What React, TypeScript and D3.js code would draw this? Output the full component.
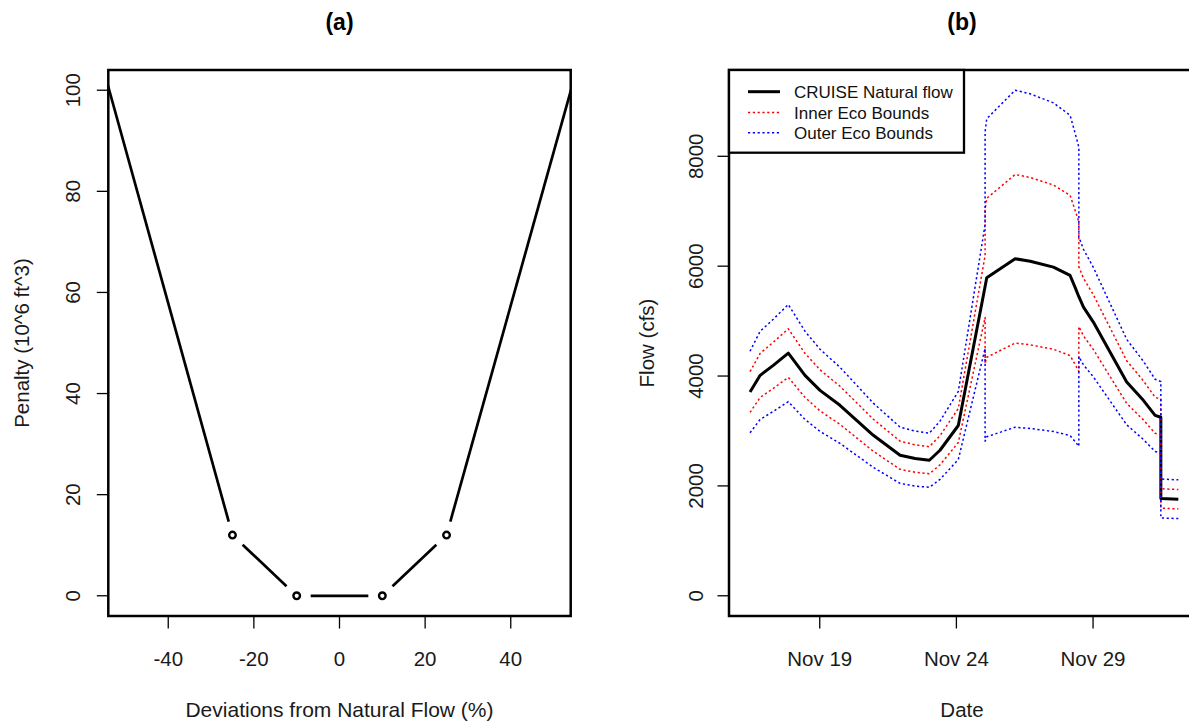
import React, { useEffect } from 'react';
import * as d3 from 'd3';

// ---------- Panel (a) data ----------
const devPct = [-60, -25, -10, 10, 25, 60];
const penalty = [119, 12, 0, 0, 12, 118];
const penaltyTicksX = [-40, -20, 0, 20, 40];
const penaltyTicksY = [0, 20, 40, 60, 80, 100];

// ---------- Panel (b) data (day of November, fractional) ----------
const dayOfNov = [
  16.45, 16.82, 17.3, 17.85, 18.46, 19.01, 19.74, 20.35, 20.96, 21.94, 22.49, 23.01, 23.4, 24.07,
  25.05, 25.05, 25.11, 26.15, 26.7, 27.55, 28.16, 28.34, 28.48, 28.48, 28.65, 29.01, 29.62, 30.23,
  30.84, 31.27, 31.45, 31.48, 31.48, 32.12,
];
const naturalFlow = [
  3709, 4013, 4195, 4418, 4013, 3740, 3467, 3195, 2922, 2558, 2498, 2467, 2649, 3100,
  5630, 5630, 5789, 6135, 6091, 5982, 5831, 5618, 5444, 5444, 5255, 4982, 4436, 3891,
  3558, 3285, 3255, 3250, 1771, 1758,
];
const innerUpper = [
  4080, 4414, 4615, 4860, 4414, 4114, 3814, 3515, 3214, 2814, 2748, 2714, 2914, 3410,
  6193, 7038, 7236, 7669, 7614, 7478, 7289, 7023, 6805, 5988, 5781, 5480, 4880, 4280,
  3914, 3614, 3581, 3575, 1948, 1934,
];
const innerLower = [
  3338, 3612, 3776, 3976, 3612, 3366, 3120, 2876, 2630, 2302, 2248, 2220, 2384, 2790,
  5067, 4223, 4342, 4601, 4568, 4487, 4373, 4214, 4083, 4900, 4730, 4484, 3992, 3502,
  3202, 2957, 2930, 2925, 1594, 1582,
];
const outerUpper = [
  4451, 4816, 5034, 5302, 4816, 4488, 4160, 3834, 3506, 3070, 2998, 2960, 3179, 3720,
  6756, 8445, 8684, 9203, 9137, 8973, 8747, 8427, 8166, 6533, 6306, 5978, 5323, 4669,
  4270, 3942, 3906, 3900, 2125, 2110,
];
const outerLower = [
  2967, 3210, 3356, 3534, 3210, 2992, 2774, 2556, 2338, 2046, 1998, 1974, 2119, 2480,
  4504, 2815, 2895, 3068, 3046, 2991, 2916, 2809, 2722, 4355, 4204, 3986, 3549, 3113,
  2846, 2628, 2604, 2600, 1417, 1406,
];
const dateTicks = [19, 24, 29];
const dateTickLabels = ['Nov 19', 'Nov 24', 'Nov 29'];
const flowTicks = [0, 2000, 4000, 6000, 8000];
const legendLabels = ['CRUISE Natural flow', 'Inner Eco Bounds', 'Outer Eco Bounds'];
const legendColors = ['#000000', '#ff0000', '#0000ff'];

const FONT = '"Liberation Sans", Arial, Helvetica, sans-serif';
const FS = 20.5;

const toDate = (d: number) => new Date(Date.UTC(2012, 10, 1) + (d - 1) * 86400000);

function gapped(pts: [number, number][], gap: number) {
  const segs: [number, number, number, number][] = [];
  for (let i = 0; i < pts.length - 1; i++) {
    const [x1, y1] = pts[i];
    const [x2, y2] = pts[i + 1];
    const dx = x2 - x1, dy = y2 - y1;
    const L = Math.hypot(dx, dy);
    if (L <= 2 * gap) continue;
    const ux = dx / L, uy = dy / L;
    segs.push([x1 + ux * gap, y1 + uy * gap, x2 - ux * gap, y2 - uy * gap]);
  }
  return segs;
}

export default function App() {
  useEffect(() => {
    document.body.style.margin = '0';
  }, []);

  // Panel (a) layout
  const aL = 108.3, aR = 570.7, top = 70, bottom = 616;
  const xa = d3.scaleLinear().domain([-54, 54]).range([aL, aR]);
  const ya = d3.scaleLinear().domain([-4, 104]).range([bottom, top]);
  const aPts: [number, number][] = devPct.map((d, i) => [xa(d), ya(penalty[i])]);
  const aSegs = gapped(aPts, 14);

  // Panel (b) layout
  const bL = 729, bR = 1195;
  const xb = d3.scaleUtc().domain([toDate(15.68), toDate(32.73)]).range([bL, bR]);
  const yb = d3.scaleLinear().domain([-368, 9571]).range([bottom, top]);
  const line = d3
    .line<number>()
    .x((_, i) => xb(toDate(dayOfNov[i])))
    .y((v) => yb(v));

  const series = [
    { vals: naturalFlow, color: '#000000', width: 3, dash: undefined as string | undefined },
    { vals: innerUpper, color: '#ff0000', width: 1.5, dash: '2.2,2.6' },
    { vals: innerLower, color: '#ff0000', width: 1.5, dash: '2.2,2.6' },
    { vals: outerUpper, color: '#0000ff', width: 1.5, dash: '2.2,2.6' },
    { vals: outerLower, color: '#0000ff', width: 1.5, dash: '2.2,2.6' },
  ];

  const legTop = 70, legBottom = 152.7, legRight = 964;
  const legRows = [91.7, 112.5, 132.7];

  return (
    <svg
      width={1189}
      height={725}
      style={{ position: 'absolute', left: 0, top: 0, background: '#fff' }}
      fontFamily={FONT}
    >
      <defs>
        <clipPath id="clipA">
          <rect x={aL} y={top} width={aR - aL} height={bottom - top} />
        </clipPath>
        <clipPath id="clipB">
          <rect x={bL} y={top} width={bR - bL} height={bottom - top} />
        </clipPath>
      </defs>
      <rect x={0} y={0} width={1189} height={725} fill="#fff" />

      {/* ---------- Panel (a) ---------- */}
      <text x={(aL + aR) / 2} y={30} textAnchor="middle" fontWeight="bold" fontSize={23}>
        (a)
      </text>
      <g clipPath="url(#clipA)">
        {aSegs.map((s, i) => (
          <line key={i} x1={s[0]} y1={s[1]} x2={s[2]} y2={s[3]} stroke="#000" strokeWidth={2.7} />
        ))}
        {aPts.map((p, i) => (
          <circle key={i} cx={p[0]} cy={p[1]} r={3.3} fill="none" stroke="#000" strokeWidth={2.4} />
        ))}
      </g>
      <rect x={aL} y={top} width={aR - aL} height={bottom - top} fill="none" stroke="#000" strokeWidth={2.5} />
      {penaltyTicksX.map((t) => (
        <g key={t}>
          <line x1={xa(t)} x2={xa(t)} y1={bottom} y2={bottom + 12.5} stroke="#000" strokeWidth={1.3} />
          <text x={xa(t)} y={666} textAnchor="middle" fontSize={FS} fill="#1a1a1a">
            {t}
          </text>
        </g>
      ))}
      {penaltyTicksY.map((t) => (
        <g key={t}>
          <line x1={aL - 11.5} x2={aL} y1={ya(t)} y2={ya(t)} stroke="#000" strokeWidth={1.3} />
          <text
            transform={`translate(${aL - 28.5},${ya(t)}) rotate(-90)`}
            textAnchor="middle"
            fontSize={FS}
            fill="#1a1a1a"
          >
            {t}
          </text>
        </g>
      ))}
      <text x={(aL + aR) / 2} y={717} textAnchor="middle" fontSize={FS + 0.5} fill="#1a1a1a">
        Deviations from Natural Flow (%)
      </text>
      <text
        transform={`translate(29,${(top + bottom) / 2}) rotate(-90)`}
        textAnchor="middle"
        fontSize={FS}
        fill="#1a1a1a"
      >
        Penalty (10^6 ft^3)
      </text>

      {/* ---------- Panel (b) ---------- */}
      <text x={(bL + bR) / 2} y={30} textAnchor="middle" fontWeight="bold" fontSize={23}>
        (b)
      </text>
      <g clipPath="url(#clipB)">
        {series.map((s, i) => (
          <path
            key={i}
            d={line(s.vals) || ''}
            fill="none"
            stroke={s.color}
            strokeWidth={s.width}
            strokeDasharray={s.dash}
            strokeLinejoin="round"
          />
        ))}
      </g>
      <rect x={bL} y={top} width={bR - bL} height={bottom - top} fill="none" stroke="#000" strokeWidth={2.5} />
      {dateTicks.map((t, i) => (
        <g key={t}>
          <line
            x1={xb(toDate(t))}
            x2={xb(toDate(t))}
            y1={bottom}
            y2={bottom + 12.5}
            stroke="#000"
            strokeWidth={1.3}
          />
          <text x={xb(toDate(t))} y={666} textAnchor="middle" fontSize={FS} fill="#1a1a1a">
            {dateTickLabels[i]}
          </text>
        </g>
      ))}
      {flowTicks.map((t) => (
        <g key={t}>
          <line x1={bL - 11.5} x2={bL} y1={yb(t)} y2={yb(t)} stroke="#000" strokeWidth={1.3} />
          <text
            transform={`translate(${bL - 26.5},${yb(t)}) rotate(-90)`}
            textAnchor="middle"
            fontSize={FS}
            fill="#1a1a1a"
          >
            {t}
          </text>
        </g>
      ))}
      <text x={(bL + bR) / 2} y={717} textAnchor="middle" fontSize={FS} fill="#1a1a1a">
        Date
      </text>
      <text
        transform={`translate(654,${(top + bottom) / 2}) rotate(-90)`}
        textAnchor="middle"
        fontSize={FS}
        fill="#1a1a1a"
      >
        Flow (cfs)
      </text>

      {/* legend */}
      <rect
        x={bL}
        y={legTop}
        width={legRight - bL}
        height={legBottom - legTop}
        fill="#fff"
        stroke="#000"
        strokeWidth={2.3}
      />
      {legendLabels.map((lab, i) => (
        <g key={lab}>
          <line
            x1={748}
            x2={780}
            y1={legRows[i]}
            y2={legRows[i]}
            stroke={legendColors[i]}
            strokeWidth={i === 0 ? 3 : 1.5}
            strokeDasharray={i === 0 ? undefined : '2.2,2.6'}
          />
          <text x={794} y={legRows[i] + 6} fontSize={17} fill="#111">
            {lab}
          </text>
        </g>
      ))}
    </svg>
  );
}
